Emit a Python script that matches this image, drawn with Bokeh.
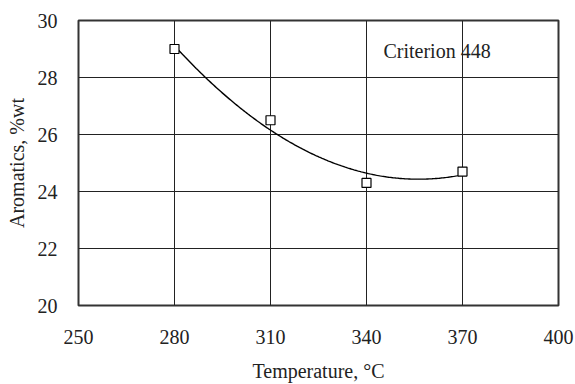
import numpy as np
from bokeh.plotting import figure
from bokeh.models import FixedTicker, Range1d, Label
from bokeh.embed import file_html
from bokeh.resources import INLINE

temperature = [280, 310, 340, 370]
aromatics = [29.0, 26.5, 24.3, 24.7]
x_ticks = [250, 280, 310, 340, 370, 400]
y_ticks = [20, 22, 24, 26, 28, 30]

# second-order polynomial trendline through the measured points
coef = np.polyfit(temperature, aromatics, 2)
xs = np.linspace(min(temperature), max(temperature), 200)
ys = np.polyval(coef, xs)

FONT = "Liberation Serif"

p = figure(width=575, height=384, output_backend="svg", toolbar_location=None,
           x_range=Range1d(250, 400), y_range=Range1d(20, 30),
           min_border_left=78, min_border_right=17, min_border_top=20, min_border_bottom=79)

p.outline_line_color = "#333333"
p.outline_line_width = 2

p.xgrid.ticker = FixedTicker(ticks=x_ticks[1:-1])
p.ygrid.ticker = FixedTicker(ticks=y_ticks[1:-1])
for g in (p.xgrid, p.ygrid):
    g.grid_line_color = "#222222"
    g.grid_line_width = 1

p.xaxis.ticker = FixedTicker(ticks=x_ticks)
p.yaxis.ticker = FixedTicker(ticks=y_ticks)
for ax in (p.xaxis, p.yaxis):
    ax.axis_line_color = None
    ax.major_tick_line_color = None
    ax.minor_tick_line_color = None
    ax.major_label_text_font = FONT
    ax.major_label_text_font_size = "20px"
    ax.major_label_text_color = "#222222"
    ax.axis_label_text_font = FONT
    ax.axis_label_text_font_size = "20px"
    ax.axis_label_text_font_style = "normal"
    ax.axis_label_text_color = "#222222"

p.xaxis.axis_label = "Temperature, °C"
p.yaxis.axis_label = "Aromatics, %wt"
p.xaxis.major_label_standoff = 18
p.xaxis.axis_label_standoff = 13
p.yaxis.major_label_standoff = 15
p.yaxis.axis_label_standoff = 7

p.line(xs, ys, line_color="black", line_width=1.4)
p.scatter(temperature, aromatics, marker="square", size=9,
          fill_color="white", line_color="black", line_width=1.2)

p.add_layout(Label(x=345.3, y=28.92, text="Criterion 448",
                   text_font=FONT, text_font_size="20px", text_color="#222222",
                   text_align="left", text_baseline="middle"))

open("out.html", "w").write(file_html(p, INLINE))
